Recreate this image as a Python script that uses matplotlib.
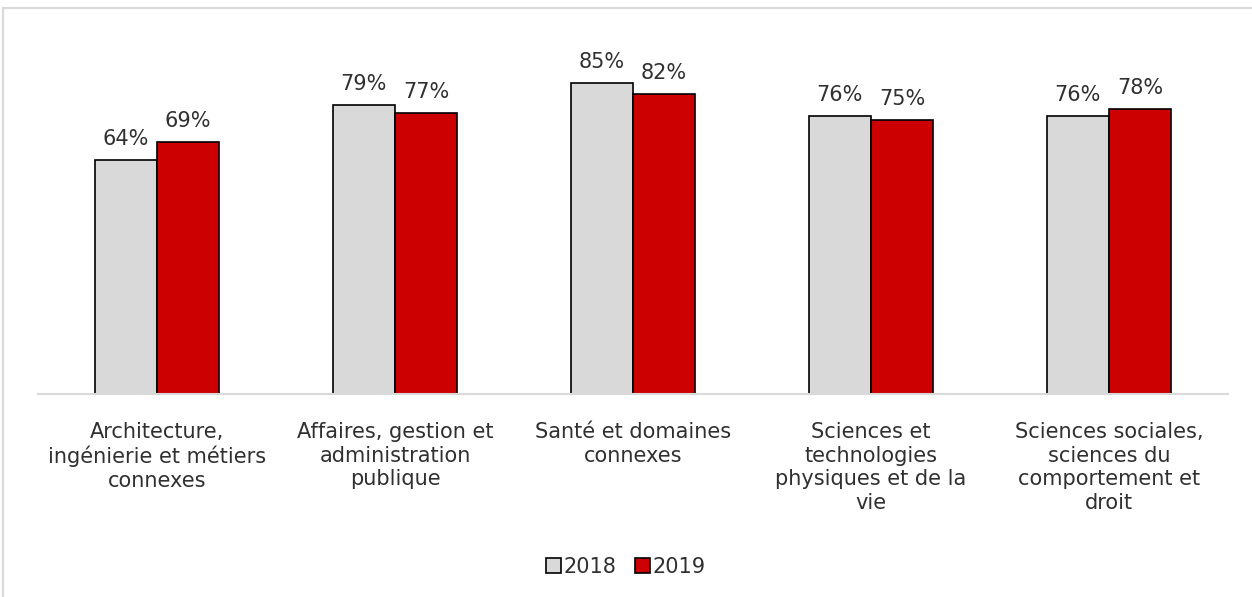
import numpy as np
import matplotlib.pyplot as plt
from matplotlib.patches import Rectangle

plt.rcParams['font.family'] = ['DejaVu Sans']

categories = ["Architecture,\ningénierie et métiers\nconnexes",
              "Affaires, gestion et\nadministration\npublique",
              "Santé et domaines\nconnexes",
              "Sciences et\ntechnologies\nphysiques et de la\nvie",
              "Sciences sociales,\nsciences du\ncomportement et\ndroit"]
years = ["2018", "2019"]
val_2018 = [64, 79, 85, 76, 76]
val_2019 = [69, 77, 82, 75, 78]

fig = plt.figure(figsize=(12.52, 5.97), dpi=100)

# cadre gris autour du graphique
fig.patches.append(Rectangle((3 / 1252, -0.1), 1.2, 1 - 8 / 597 + 0.1,
                             transform=fig.transFigure, fill=False,
                             edgecolor='#d9d9d9', lw=1.5))

ax = fig.add_axes([38 / 1252, 1 - 394 / 597, 1190 / 1252, 365.5 / 597])

x = np.arange(len(categories))
w = 0.262
b1 = ax.bar(x - w / 2, val_2018, w, color='#d9d9d9', edgecolor='black', lw=1.2, label=years[0])
b2 = ax.bar(x + w / 2, val_2019, w, color='#cc0000', edgecolor='black', lw=1.2, label=years[1])

txt = '#303030'
fs = 15
for bars, vals in [(b1, val_2018), (b2, val_2019)]:
    for r, v in zip(bars, vals):
        ax.text(r.get_x() + r.get_width() / 2, v + 3.0, f"{v}%", ha='center', va='bottom',
                fontsize=fs, color=txt)

ax.set_xlim(-0.5, len(categories) - 0.5)
ax.set_ylim(0, 100)
ax.set_yticks([])
ax.set_xticks(x)
ax.set_xticklabels(categories, fontsize=fs, color=txt, linespacing=1.24)
ax.tick_params(axis='x', length=0, pad=20)
for s in ['top', 'right', 'left']:
    ax.spines[s].set_visible(False)
ax.spines['bottom'].set_color('#d9d9d9')
ax.spines['bottom'].set_linewidth(1.5)

fig.legend(handles=[b1, b2], loc='center', bbox_to_anchor=(0.5, 1 - 567 / 597), ncol=2,
           frameon=False, fontsize=fs, handlelength=0.7, handleheight=0.7,
           handletextpad=0.15, columnspacing=0.9, labelcolor=txt)

plt.savefig("out.png", dpi=100)
